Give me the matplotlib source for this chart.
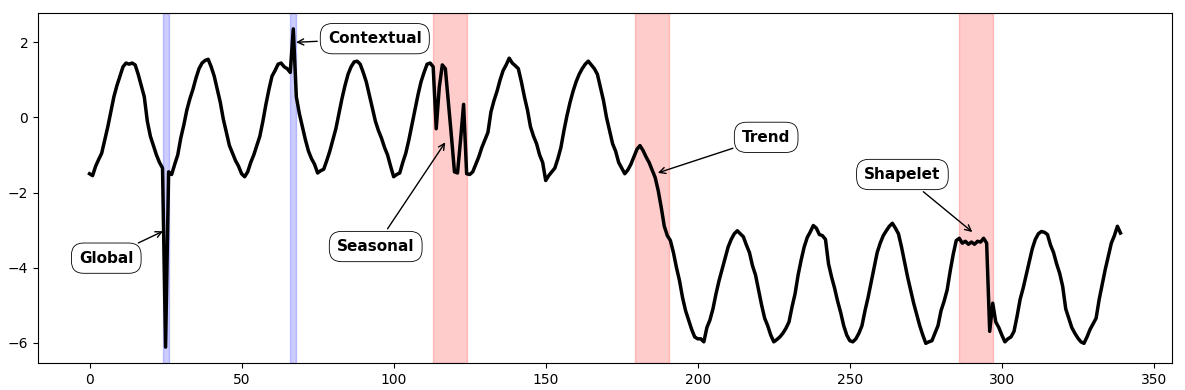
import matplotlib
matplotlib.use("Agg")
import matplotlib.pyplot as plt
import numpy as np

# --- data -------------------------------------------------------------------
values = [
    -1.50, -1.55, -1.30, -1.12, -0.95, -0.60, -0.25, 0.15, 0.55, 0.85,
    1.10, 1.35, 1.45, 1.42, 1.45, 1.40, 1.15, 0.85, 0.55, -0.10,
    -0.50, -0.75, -1.00, -1.20, -1.35, -6.12, -1.45, -1.52, -1.25, -1.00,
    -0.55, -0.20, 0.20, 0.50, 0.75, 1.05, 1.30, 1.45, 1.52, 1.55,
    1.35, 1.10, 0.75, 0.40, -0.05, -0.40, -0.75, -0.95, -1.15, -1.30,
    -1.50, -1.58, -1.45, -1.20, -1.00, -0.75, -0.50, -0.10, 0.35, 0.75,
    1.10, 1.25, 1.42, 1.45, 1.35, 1.30, 1.20, 2.36, 0.55, 0.10,
    -0.25, -0.60, -0.90, -1.10, -1.25, -1.48, -1.42, -1.38, -1.15, -0.90,
    -0.60, -0.30, 0.10, 0.50, 0.85, 1.15, 1.35, 1.48, 1.50, 1.42,
    1.20, 0.95, 0.60, 0.25, -0.10, -0.35, -0.55, -0.80, -1.00, -1.30,
    -1.58, -1.52, -1.48, -1.20, -0.95, -0.60, -0.20, 0.20, 0.60, 0.95,
    1.20, 1.42, 1.45, 1.35, -0.30, 0.80, 1.40, 1.30, 0.40, -0.50,
    -1.45, -1.48, -0.60, 0.35, -1.50, -1.52, -1.45, -1.25, -1.05, -0.80,
    -0.60, -0.40, 0.15, 0.45, 0.70, 1.00, 1.25, 1.40, 1.58, 1.45,
    1.38, 1.30, 0.95, 0.55, 0.20, -0.25, -0.50, -0.70, -1.00, -1.20,
    -1.68, -1.55, -1.45, -1.35, -1.10, -0.80, -0.35, 0.05, 0.40, 0.70,
    0.95, 1.15, 1.30, 1.42, 1.50, 1.40, 1.30, 1.15, 0.80, 0.45,
    0.00, -0.35, -0.70, -0.90, -1.20, -1.35, -1.50, -1.40, -1.25, -1.05,
    -0.85, -0.75, -0.88, -1.05, -1.20, -1.40, -1.60, -1.95, -2.40, -2.90,
    -3.15, -3.28, -3.60, -4.00, -4.35, -4.80, -5.15, -5.40, -5.65, -5.85,
    -5.90, -5.90, -5.98, -5.60, -5.40, -5.10, -4.70, -4.35, -4.05, -3.75,
    -3.45, -3.25, -3.10, -3.02, -3.10, -3.18, -3.40, -3.60, -3.95, -4.20,
    -4.60, -5.00, -5.35, -5.55, -5.80, -5.98, -5.92, -5.85, -5.75, -5.62,
    -5.45, -5.05, -4.70, -4.20, -3.80, -3.45, -3.20, -3.05, -2.88, -2.95,
    -3.12, -3.15, -3.25, -3.90, -4.25, -4.55, -4.90, -5.20, -5.55, -5.80,
    -5.95, -5.98, -5.90, -5.75, -5.55, -5.15, -4.80, -4.40, -4.00, -3.60,
    -3.35, -3.15, -3.02, -2.90, -2.82, -2.95, -3.10, -3.45, -3.85, -4.25,
    -4.60, -4.95, -5.25, -5.55, -5.80, -6.02, -5.98, -5.95, -5.75, -5.55,
    -5.15, -4.90, -4.60, -4.10, -3.65, -3.28, -3.22, -3.35, -3.30, -3.38,
    -3.32, -3.38, -3.30, -3.32, -3.22, -3.35, -5.70, -4.95, -5.45, -5.60,
    -5.80, -5.98, -5.90, -5.85, -5.70, -5.30, -4.85, -4.55, -4.20, -3.85,
    -3.50, -3.25, -3.10, -3.04, -3.06, -3.12, -3.40, -3.60, -3.90, -4.15,
    -4.50, -5.10, -5.35, -5.60, -5.75, -5.88, -5.98, -6.02, -5.85, -5.65,
    -5.50, -5.35, -4.85, -4.45, -4.05, -3.70, -3.35, -3.15, -2.90, -3.08,
]

point_spans = [(24, 26), (66, 68)]          # blue
pattern_spans = [(113, 124), (179.5, 190.5), (286, 297)]  # red

labels = ["Global", "Contextual", "Seasonal", "Trend", "Shapelet"]
label_xy = [(25, -3.0), (67, 2.0), (117.5, -0.6), (186, -1.5), (291, -3.1)]
label_text_xy = [(5.5, -3.75), (93.8, 2.1), (94.1, -3.44), (222.5, -0.53), (267.3, -1.52)]

# --- plot ---------------------------------------------------------------------
x = np.arange(len(values))

fig = plt.figure(figsize=(11.85, 3.9), dpi=100)
ax = fig.add_axes([38 / 1185, 27 / 390, (1172 - 38) / 1185, (363 - 13) / 390])

for a, b in point_spans:
    ax.axvspan(a, b, color="blue", alpha=0.2)
for a, b in pattern_spans:
    ax.axvspan(a, b, color="red", alpha=0.2)

ax.plot(x, values, color="black", linewidth=2.5)

for lab, xy, xyt in zip(labels, label_xy, label_text_xy):
    ax.annotate(
        lab, xy=xy, xytext=xyt, ha="center", va="center",
        fontsize=11, fontweight="bold",
        bbox=dict(boxstyle="round,pad=0.5,rounding_size=0.8", fc="white", ec="black", lw=0.6),
        arrowprops=dict(arrowstyle="->", color="black", lw=1.0),
    )

fig.savefig("out.png", dpi=100)
